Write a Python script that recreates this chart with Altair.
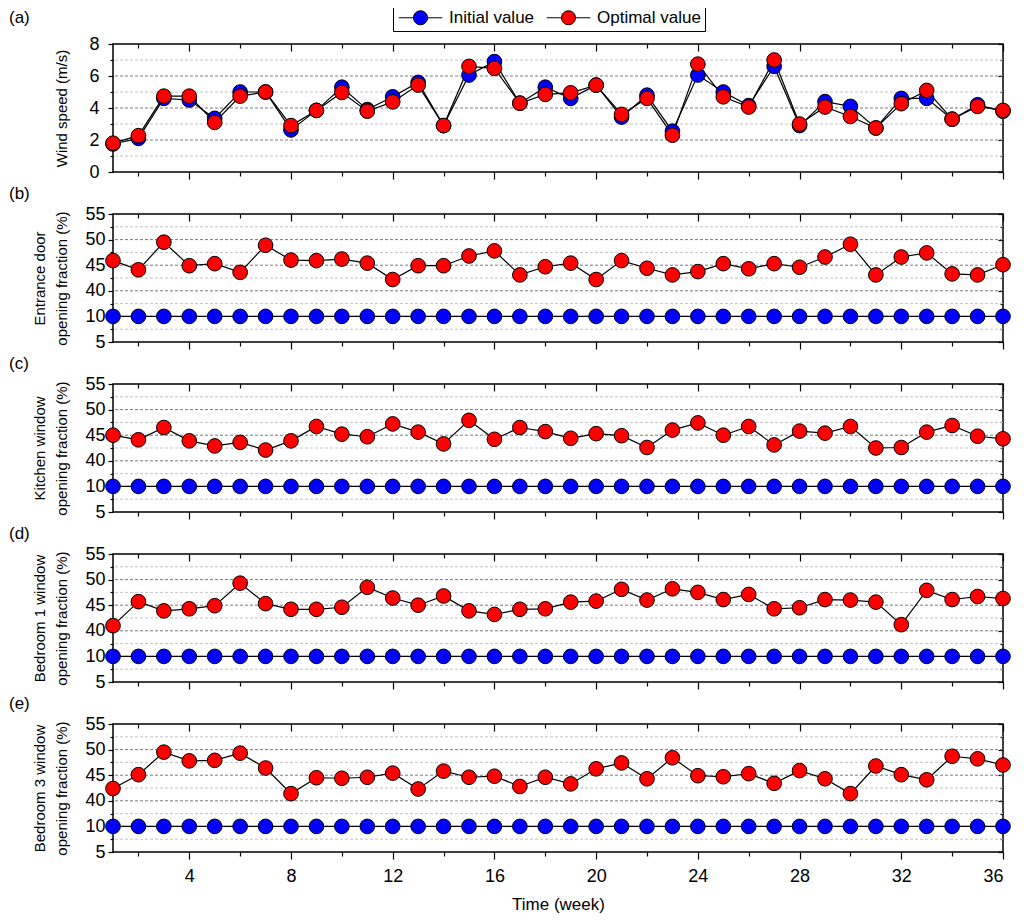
import json
import altair as alt
import pandas as pd

# ---------------- data ----------------
weeks = list(range(1, 37))
series_names = ["Initial value", "Optimal value"]
series_colors = ["#0000FF", "#FF0000"]

wind_initial = [1.75, 2.1, 4.6, 4.5, 3.35, 5.0, 5.0, 2.63, 3.85, 5.3, 3.9, 4.7,
                5.6, 2.9, 6.06, 6.9, 4.3, 5.3, 4.6, 5.43, 3.43, 4.8, 2.55, 6.06,
                5.0, 4.15, 6.6, 2.9, 4.4, 4.1, 2.75, 4.6, 4.6, 3.3, 4.2, 3.8]
wind_optimal = [1.8, 2.27, 4.74, 4.74, 3.1, 4.74, 5.0, 2.9, 3.85, 4.97, 3.8, 4.38,
                5.43, 2.9, 6.6, 6.48, 4.3, 4.85, 4.95, 5.43, 3.6, 4.6, 2.3, 6.74,
                4.7, 4.06, 7.0, 3.0, 4.06, 3.47, 2.75, 4.27, 5.1, 3.3, 4.1, 3.85]

door_initial = [10, 10, 10, 10, 10, 10, 10, 10, 10, 10, 10, 10,
                10, 10, 10, 10, 10, 10, 10, 10, 10, 10, 10, 10,
                10, 10, 10, 10, 10, 10, 10, 10, 10, 10, 10, 10]
door_optimal = [45.9, 44.1, 49.5, 44.9, 45.3, 43.6, 48.9, 46.0, 45.9, 46.2, 45.4, 42.2,
                44.9, 44.9, 46.8, 47.8, 43.1, 44.7, 45.4, 42.2, 45.9, 44.4, 43.1, 43.75,
                45.3, 44.3, 45.3, 44.6, 46.6, 49.1, 43.1, 46.6, 47.4, 43.3, 43.1, 45.1]

kitchen_initial = [10, 10, 10, 10, 10, 10, 10, 10, 10, 10, 10, 10,
                   10, 10, 10, 10, 10, 10, 10, 10, 10, 10, 10, 10,
                   10, 10, 10, 10, 10, 10, 10, 10, 10, 10, 10, 10]
kitchen_optimal = [45.0, 44.1, 46.5, 43.9, 42.9, 43.6, 42.1, 43.9, 46.7, 45.2, 44.7, 47.2,
                   45.6, 43.3, 47.9, 44.2, 46.5, 45.7, 44.4, 45.3, 44.9, 42.6, 46.0, 47.4,
                   45.0, 46.7, 43.1, 45.8, 45.4, 46.7, 42.5, 42.6, 45.6, 46.9, 44.8, 44.3]

bed1_initial = [10, 10, 10, 10, 10, 10, 10, 10, 10, 10, 10, 10,
                10, 10, 10, 10, 10, 10, 10, 10, 10, 10, 10, 10,
                10, 10, 10, 10, 10, 10, 10, 10, 10, 10, 10, 10]
bed1_optimal = [41.0, 45.7, 43.9, 44.3, 44.9, 49.3, 45.3, 44.2, 44.2, 44.6, 48.5, 46.4,
                45.0, 46.8, 43.9, 43.2, 44.2, 44.3, 45.6, 45.8, 48.1, 46.0, 48.2, 47.5,
                46.1, 47.1, 44.3, 44.5, 46.1, 46.0, 45.6, 41.2, 47.9, 46.1, 46.7, 46.3]

bed3_initial = [10, 10, 10, 10, 10, 10, 10, 10, 10, 10, 10, 10,
                10, 10, 10, 10, 10, 10, 10, 10, 10, 10, 10, 10,
                10, 10, 10, 10, 10, 10, 10, 10, 10, 10, 10, 10]
bed3_optimal = [42.4, 45.1, 49.5, 47.8, 47.9, 49.3, 46.4, 41.4, 44.5, 44.4, 44.6, 45.4,
                42.3, 45.8, 44.6, 44.8, 42.8, 44.6, 43.3, 46.25, 47.4, 44.3, 48.4, 44.9,
                44.7, 45.3, 43.4, 45.9, 44.3, 41.4, 46.8, 45.1, 44.1, 48.7, 48.2, 47.0]

# axis ticks / labels / grid positions
x_ticks = [2, 4, 6, 8, 10, 12, 14, 16, 18, 20, 22, 24, 26, 28, 30, 32, 34, 36]
x_major = [4, 8, 12, 16, 20, 24, 28, 32, 36]
x_minor = [2, 6, 10, 14, 18, 22, 26, 30, 34]

wind_domain = [0, 8]
wind_ticks = [0, 1, 2, 3, 4, 5, 6, 7, 8]
wind_labels = [0, 2, 4, 6, 8]
wind_minor = [1, 3, 5, 7]
wind_grid_major = [2, 4, 6]
wind_grid_minor = [1, 3, 5, 7]

frac_domain = [5, 10, 40, 55]          # broken axis: 10 -> 40 squeezed
frac_ticks = [5, 7.5, 10, 25, 40, 42.5, 45, 47.5, 50, 52.5, 55]
frac_labels = [5, 10, 40, 45, 50, 55]
frac_minor = [7.5, 25, 42.5, 47.5, 52.5]
frac_grid_major = [10, 40, 45, 50]
frac_grid_minor = [7.5, 25, 42.5, 47.5, 52.5]

# ---------------- styling ----------------
FONT = "Liberation Sans"
W = 890
H = 128

SYMBOL = "M-3.1,0L-1,0M1,0L3.1,0M-1,0A1,1,0,1,0,1,0A1,1,0,1,0,-1,0Z"

legend = alt.Legend(
    title=None, orient="none", legendX=280, legendY=-39, direction="horizontal",
    symbolType=SYMBOL, symbolSize=196, symbolStrokeColor="black", symbolStrokeWidth=1,
    labelFontSize=17, labelFont=FONT, labelColor="black",
    strokeColor="black", fillColor="white", padding=4,
    symbolOffset=15, labelOffset=20, columnPadding=9,
)
cscale = alt.Scale(domain=series_names, range=series_colors)
xscale = alt.Scale(domain=[1, 36], nice=False, zero=False)


def make_panel(initial, optimal, label, ytitle, ydomain, yticks, ylabels, yminor,
               gmajor, gminor, last=False, label_pad=3, title_pad=15,
               title_offset=2):
    if len(ydomain) == 4:
        yscale = alt.Scale(domain=ydomain, range=[H, 0.8 * H, 0.6 * H, 0],
                           nice=False, zero=False)
    else:
        yscale = alt.Scale(domain=ydomain, nice=False, zero=False)

    df = pd.DataFrame({
        "week": weeks + weeks,
        "value": initial + optimal,
        "series": [series_names[0]] * 36 + [series_names[1]] * 36,
        "ord": [0] * 36 + [1] * 36,
    })
    ytest = "indexof(%s, datum.value) >= 0" % json.dumps(ylabels)
    xtest = "datum.value % 4 === 0"

    yaxis = alt.Axis(
        orient="left", values=yticks, labelExpr=f"{ytest} ? datum.label : ''",
        tickSize={"condition": {"test": ytest, "value": 5}, "value": 3},
        title=ytitle, domain=False, grid=False, labelPadding=label_pad,
        titlePadding=title_pad,
    )
    xaxis = alt.Axis(
        orient="bottom", values=x_ticks,
        labels=last, labelExpr=f"{xtest} ? datum.label : ''",
        tickSize={"condition": {"test": xtest, "value": 7}, "value": 4},
        title="Time (week)" if last else None, titleFontSize=17,
        domain=False, grid=False, labelPadding=8, titlePadding=11,
    )

    gmin = alt.Chart(pd.DataFrame({"g": gminor})).mark_rule(
        color="#c4c4c4", strokeDash=[3, 2], strokeWidth=1
    ).encode(y=alt.Y("g:Q", scale=yscale, axis=None))
    gmaj = alt.Chart(pd.DataFrame({"g": gmajor})).mark_rule(
        color="#7a7a7a", strokeDash=[3, 2], strokeWidth=1
    ).encode(y=alt.Y("g:Q", scale=yscale, axis=None))

    line = alt.Chart(df).mark_line(color="black", strokeWidth=1.2).encode(
        x=alt.X("week:Q", scale=xscale, axis=xaxis),
        y=alt.Y("value:Q", scale=yscale, axis=yaxis),
        detail="series:N",
    )
    pts = alt.Chart(df).mark_point(
        filled=True, size=215, stroke="black", strokeWidth=1, opacity=1, shape="circle"
    ).encode(
        x=alt.X("week:Q", scale=xscale, axis=None),
        y=alt.Y("value:Q", scale=yscale, axis=None),
        color=alt.Color("series:N", scale=cscale, legend=legend),
        order=alt.Order("ord:Q"),
    )
    # inward ticks on the top and right edges
    top_major = alt.Chart(df).mark_point(opacity=0).encode(
        x=alt.X("week:Q", scale=xscale, axis=alt.Axis(
            orient="top", values=x_major, tickSize=7, offset=-7, labels=False,
            domain=False, grid=False, title=None)),
        y=alt.Y("value:Q", scale=yscale, axis=alt.Axis(
            orient="right", values=ylabels, tickSize=5, offset=-5, labels=False,
            domain=False, grid=False, title=None)),
    )
    top_minor = alt.Chart(df).mark_point(opacity=0).encode(
        x=alt.X("week:Q", scale=xscale, axis=alt.Axis(
            orient="top", values=x_minor, tickSize=4, offset=-4, labels=False,
            domain=False, grid=False, title=None)),
        y=alt.Y("value:Q", scale=yscale, axis=alt.Axis(
            orient="right", values=yminor, tickSize=3, offset=-3, labels=False,
            domain=False, grid=False, title=None)),
    )
    return alt.layer(gmin, gmaj, line, pts, top_major, top_minor).resolve_axis(
        x="independent", y="independent"
    ).properties(
        width=W, height=H,
        title=alt.TitleParams(label, anchor="start", frame="group", dx=-104,
                              offset=title_offset, fontSize=17, fontWeight="normal",
                              font=FONT, color="black"),
    )


pa = make_panel(wind_initial, wind_optimal, "(a)", "Wind speed (m/s)", wind_domain,
                wind_ticks, wind_labels, wind_minor, wind_grid_major, wind_grid_minor,
                label_pad=9, title_pad=19, title_offset=8)
pb = make_panel(door_initial, door_optimal, "(b)", ["Entrance door", "opening fraction (%)"],
                frac_domain, frac_ticks, frac_labels, frac_minor, frac_grid_major, frac_grid_minor)
pc = make_panel(kitchen_initial, kitchen_optimal, "(c)", ["Kitchen window", "opening fraction (%)"],
                frac_domain, frac_ticks, frac_labels, frac_minor, frac_grid_major, frac_grid_minor)
pd_ = make_panel(bed1_initial, bed1_optimal, "(d)", ["Bedroom 1 window", "opening fraction (%)"],
                 frac_domain, frac_ticks, frac_labels, frac_minor, frac_grid_major, frac_grid_minor)
pe = make_panel(bed3_initial, bed3_optimal, "(e)", ["Bedroom 3 window", "opening fraction (%)"],
                frac_domain, frac_ticks, frac_labels, frac_minor, frac_grid_major, frac_grid_minor,
                last=True)

chart = alt.vconcat(pa, pb, pc, pd_, pe, spacing=2).properties(
    padding={"left": 0, "top": -4, "right": 0, "bottom": 2},
    background="white",
).configure_view(
    stroke="black", strokeWidth=1.5
).configure_axis(
    labelFont=FONT, titleFont=FONT, labelFontSize=18, titleFontSize=15,
    labelColor="black", titleColor="black", tickColor="black", tickWidth=1.2,
    titleFontWeight="normal", titleLineHeight=22,
)

chart.save("out.html", embed_options={"renderer": "svg", "actions": False})
